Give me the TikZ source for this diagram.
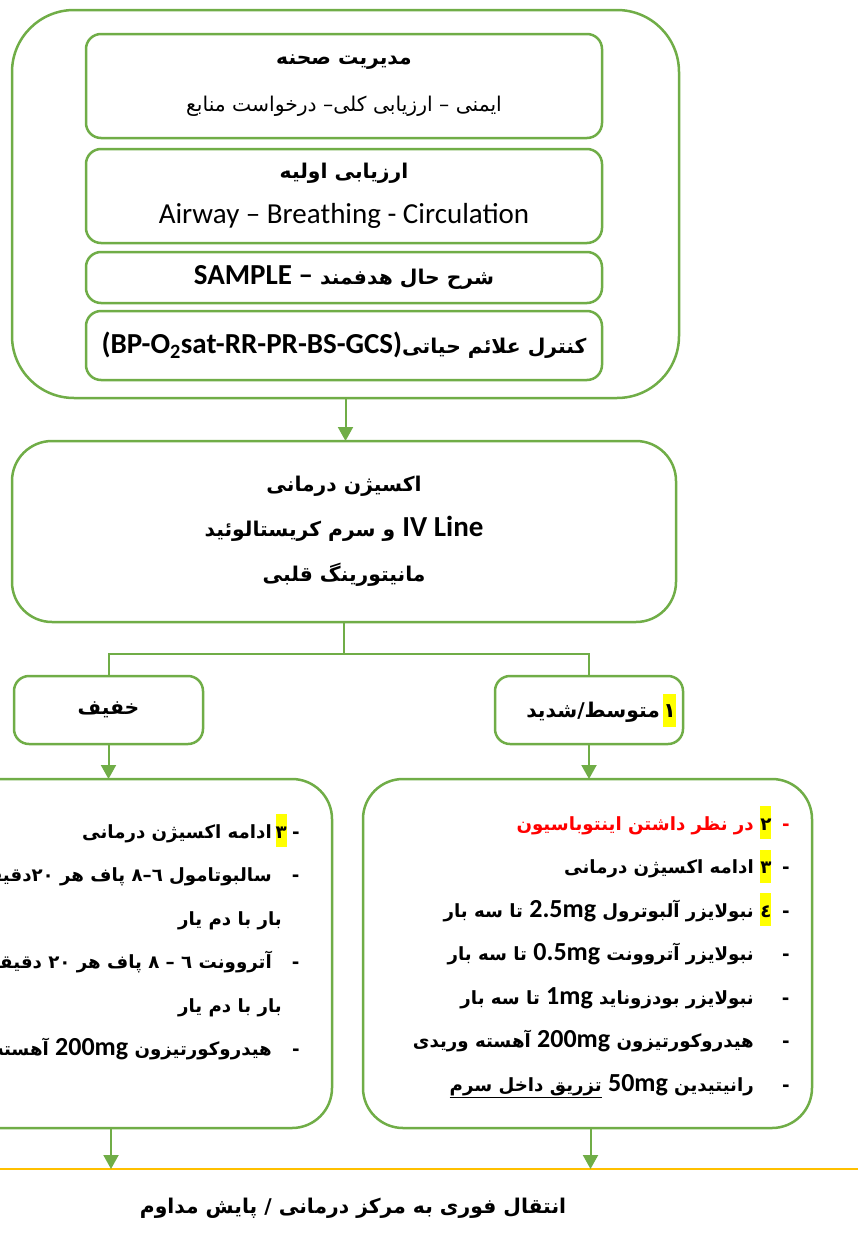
\documentclass[tikz,border=0pt]{standalone}
\usepackage{fontspec}
\setmainfont{Carlito}
\newfontfamily\prs[Script=Arabic,Scale=0.7]{DejaVu Sans}
\TeXXeTstate=1
\usepackage{xcolor}
\usepackage{tikz}
\usetikzlibrary{positioning}
\usetikzlibrary{arrows.meta}
\definecolor{grn}{HTML}{70AD47}
\definecolor{amber}{HTML}{FFC000}
\definecolor{hly}{HTML}{FFFF00}
\newlength{\dashw}
\newlength{\numw}
\newcommand{\en}[1]{{\rmfamily #1}}
\newcommand{\hl}[1]{\hbox{\setlength{\fboxsep}{0pt}\colorbox{hly}{\rule[-9pt]{0pt}{33pt}#1}}}
% number slot and dash, set to the right of the text
\newcommand{\li}[1]{\makebox[\numw]{#1}\makebox[\dashw]{-}}
\newcommand{\cont}{\hspace*{\numw}\hspace*{\dashw}}
\tikzset{main box/.style={draw=grn,line width=2.5pt,rounded corners=#1,outer sep=0pt,inner sep=0pt,fill=white},
  main box/.default=15pt,
  link/.style={draw=grn,line width=2pt},
  flow/.style={link,-{Triangle[width=15pt,length=14pt]}},
  head/.style={font=\prs\bfseries\fontsize{29}{45}\selectfont,align=center},
  items/.style n args={2}{font=\prs\bfseries\fontsize{26}{43.5}\selectfont\setlength{\dashw}{#1}\setlength{\numw}{#2},align=right,anchor=north east,inner sep=0pt},}

\begin{document}
\begin{tikzpicture}[x=1pt,y=-1pt]
    \clip (0,0) rectangle (858,1245);

    % first stage
    \node[main box=62pt,minimum width=667pt,minimum height=388pt] (scene) at (345.5,204) {};
    \node[main box,head,minimum width=516pt,minimum height=104pt] (scenemgmt) at (344,86)
      {\beginR مدیریت صحنه\endR\\[2pt] {\mdseries\beginR ایمنی – ارزیابی کلی– درخواست منابع\endR}};
    \node[main box,head,minimum width=516pt,minimum height=94pt,below=11pt of scenemgmt] (primary)
      {\beginR ارزیابی اولیه\endR\\ {\mdseries\rmfamily Airway – Breathing - Circulation}};
    \node[main box,head,minimum width=516pt,minimum height=51pt,below=9pt of primary] (history)
      {\en{SAMPLE –} \beginR شرح حال هدفمند\endR};
    \node[main box,head,minimum width=516pt,minimum height=69pt,below=8pt of history] (vitals)
      {\en{(BP-O\textsubscript{2}sat-RR-PR-BS-GCS)}\beginR کنترل علائم حیاتی\endR};

    % second stage
    \node[main box=40pt,head,minimum width=664pt,minimum height=181pt] (therapy) at (344,531.5)
      {\beginR اکسیژن درمانی\endR\\
       \beginR\en{\beginL IV Line\endL} و سرم کریستالوئید\endR\\
       \beginR مانیتورینگ قلبی\endR};

    \node[main box,head,minimum width=189pt,minimum height=68pt] (mild) at (108.5,710) {\beginR خفیف\endR};
    \node[main box,head,minimum width=188pt,minimum height=68pt] (severe) at (589,710)
      {\hspace*{24pt}\beginR متوسط/شدید\endR\,\hl{١}};

    \node[main box=40pt,minimum width=448pt,minimum height=349pt] (mildcare) at (108,953.5) {};
    \node[main box=40pt,minimum width=449pt,minimum height=349pt] (severecare) at (587.5,953.5) {};

    \node[items={10pt}{19pt}] (mildlist) at (301,814)
      {\beginR ادامه اکسیژن درمانی\endR\li{\hl{٣}}\\
       \beginR سالبوتامول ٦–٨ پاف هر ٢٠دقیقه\endR\li{}\\
       \beginR بار با دم یار\endR\cont\\
       \beginR آتروونت ٦ – ٨ پاف هر ٢٠ دقیقه\endR\li{}\\
       \beginR بار با دم یار\endR\cont\\
       \beginR هیدروکورتیزون \en{200mg} آهسته\endR\li{}};

    \node[items={16pt}{24pt}] (severelist) at (794,806)
      {{\color{red}\beginR در نظر داشتن اینتوباسیون\endR\li{\hl{\color{black}٢}}}\\
       \beginR ادامه اکسیژن درمانی\endR\li{\hl{٣}}\\
       \beginR نبولایزر آلبوترول \en{2.5mg} تا سه بار\endR\li{\hl{٤}}\\
       \beginR نبولایزر آتروونت \en{0.5mg} تا سه بار\endR\li{}\\
       \beginR نبولایزر بودزوناید \en{1mg} تا سه بار\endR\li{}\\
       \beginR هیدروکورتیزون \en{200mg} آهسته وریدی\endR\li{}\\
       \beginR رانیتیدین \en{50mg} \underline{\beginR تزریق داخل سرم\endR}\endR\li{}};

    % transfer
    \coordinate (lineL) at (0,1169);
    \coordinate (lineR) at (858,1169);
    \draw[amber,line width=2.5pt] (lineL) -- (lineR);
    \node[head] (transfer) at (353,1208) {\beginR انتقال فوری به مرکز درمانی / پایش مداوم\endR};

    \draw[flow] (scene.south) -- (scene.south |- therapy.north);
    \draw[link] (therapy.south) -- ++(0,32) coordinate (split) -| (mild.north);
    \draw[link] (split) -| (severe.north);
    \draw[flow] (mild.south) -- (mild.south |- mildcare.north);
    \draw[flow] (severe.south) -- (severe.south |- severecare.north);
    \draw[flow] ([xshift=3pt]mildcare.south) -- ([xshift=3pt]mildcare.south |- lineL);
    \draw[flow] ([xshift=3pt]severecare.south) -- ([xshift=3pt]severecare.south |- lineL);
\end{tikzpicture}
\end{document}
